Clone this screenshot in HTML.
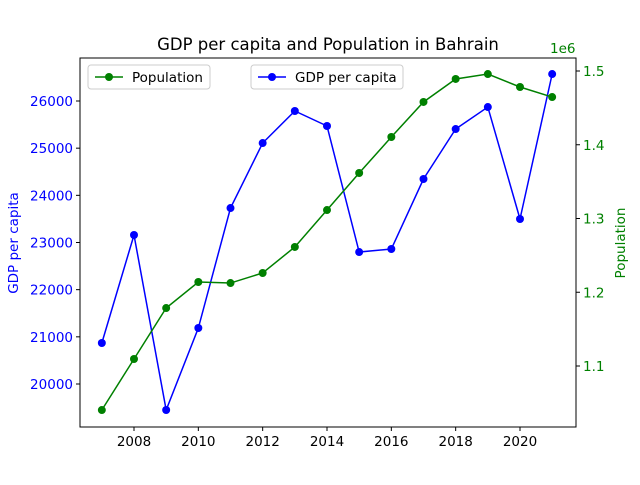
<!DOCTYPE html>
<html><head><meta charset="utf-8"><style>
body{margin:0;background:#fff}
svg{font-family:"DejaVu Sans","Liberation Sans",sans-serif}
</style></head><body>
<svg id="chart" width="640" height="480" viewBox="0 0 640 480" xmlns="http://www.w3.org/2000/svg">
<rect width="640" height="480" fill="#fff"/>
<text x="328" y="50" text-anchor="middle" font-size="16.5">GDP per capita and Population in Bahrain</text>
<g id="plot"></g>
</svg>
<script>
const years=[2007,2008,2009,2010,2011,2012,2013,2014,2015,2016,2017,2018,2019,2020,2021];
const gdp=[20869,23159,19449,21187,23731,25109,25788,25470,22798,22862,24346,25406,25872,23498,26572];
const pop=[1.0403,1.1095,1.1786,1.2139,1.2125,1.2261,1.2614,1.3115,1.3617,1.4105,1.458,1.4892,1.4959,1.4783,1.4647];
const xTicks=[2008,2010,2012,2014,2016,2018,2020];
const gdpTicks=[20000,21000,22000,23000,24000,25000,26000];
const popTicks=[1.1,1.2,1.3,1.4,1.5];
const L=80,R=576,T=58,B=427;
const NS="http://www.w3.org/2000/svg";
const g=document.getElementById('plot');
function X(v){return 134+(v-2008)*(520-134)/12;}
function YL(v){return 384-(v-20000)*(384-101)/6000;}
function YR(v){return 366-(v-1.1)*(366-71)/0.4;}
function el(t,a,p){const e=document.createElementNS(NS,t);for(const k in a)e.setAttribute(k,a[k]);(p||g).appendChild(e);return e;}
// axes frame
let f=el('rect',{x:L,y:T,width:R-L,height:B-T,fill:'none',stroke:'#000','stroke-width':1});


xTicks.forEach(v=>{const x=X(v);
 el('line',{x1:x,x2:x,y1:B,y2:B+4,stroke:'#000'});
 const t=el('text',{x:x,y:B+19,'text-anchor':'middle','font-size':13.5});t.textContent=v;
 
 });
gdpTicks.forEach(v=>{const y=YL(v);
 el('line',{x1:L-4,x2:L,y1:y,y2:y,stroke:'#000'});
 const t=el('text',{x:L-7,y:y+5,'text-anchor':'end','font-size':13.5,fill:'blue'});t.textContent=v;
 
 });
popTicks.forEach(v=>{const y=YR(v);
 el('line',{x1:R,x2:R+4,y1:y,y2:y,stroke:'#000'});
 const t=el('text',{x:R+7,y:y+5,'font-size':13.5,fill:'green'});t.textContent=v.toFixed(1);
 
 });
let o=el('text',{x:550,y:53,'font-size':13.5,fill:'green'});o.textContent='1e6';


let yl=el('text',{x:0,y:0,'font-size':13.5,fill:'blue','text-anchor':'middle',transform:'translate(18,243) rotate(-90)'});yl.textContent='GDP per capita';


let yr=el('text',{x:0,y:0,'font-size':13.5,fill:'green','text-anchor':'middle',transform:'translate(625,243) rotate(-90)'});yr.textContent='Population';


function series(vals,Y,color,name){
 const pl=el('polyline',{points:vals.map((v,i)=>X(years[i])+','+Y(v)).join(' '),fill:'none',stroke:color,'stroke-width':1.5});
 
 
 vals.forEach((v,i)=>{const c=el('circle',{cx:X(years[i]),cy:Y(v),r:4,fill:color});
  
  });
}
series(gdp,YL,'blue','gdp');
series(pop,YR,'green','population');
function legend(x,w,color,label,name){
 const lg=el('g',{});
 
 
 el('rect',{x:x,y:65,width:w,height:24,rx:3,fill:'#fff',stroke:'#ccc'},lg);
 el('line',{x1:x+7,x2:x+35,y1:77,y2:77,stroke:color,'stroke-width':1.5},lg);
 el('circle',{cx:x+21,cy:77,r:4,fill:color},lg);
 const t=el('text',{x:x+44,y:82,'font-size':13.5},lg);t.textContent=label;
}
legend(88,122,'green','Population','legend-population');
legend(251,152,'blue','GDP per capita','legend-gdp');
</script>
</body></html>
